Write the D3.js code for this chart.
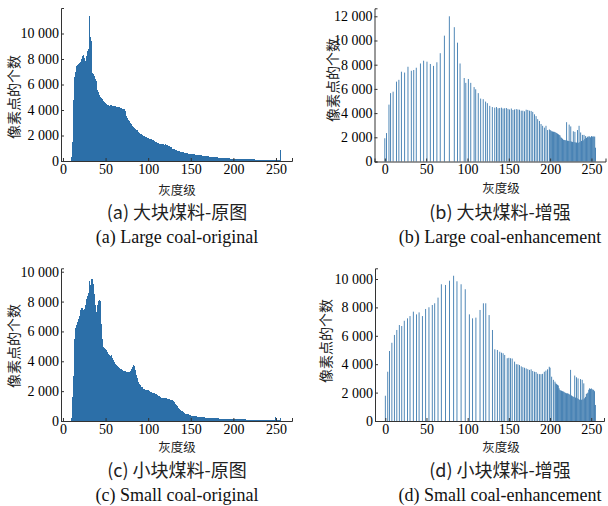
<!DOCTYPE html>
<html>
<head>
<meta charset="utf-8">
<script src="https://cdn.jsdelivr.net/npm/d3@7/dist/d3.min.js"></script>
<style>
  body { margin: 0; background: #fff; }
  .domain, .tick line { stroke: #333; }
  .cjk { font-family: "Noto Sans CJK SC", sans-serif; fill: #222; }
  .cap-en { font-family: "Liberation Serif", serif; fill: #111; }
</style>
</head>
<body>
<svg id="chart" width="608" height="506"></svg>
<script>
// ---- data: grey-level histograms ----

// (a) large coal, original: counts for grey levels 10..255
const largeOrigStart = 10;
const largeOrigCounts = [
  300, 1500, 4800, 5900, 6600, 7000, 7450, 7500, 7600, 7700,
  7850, 7800, 8000, 8200, 8350, 8100, 7850, 8150, 8250, 8600,
  8800, 11400, 9700, 9450, 8200, 6900, 6800, 6650, 6400, 6250,
  5900, 5600, 5400, 5200, 5050, 4950, 4880, 4820, 4700, 4600,
  4520, 4480, 4400, 4420, 4380, 4350, 4400, 4370, 4330, 4350,
  4300, 4320, 4280, 4260, 4270, 4250, 4220, 4200, 4180, 4150,
  4100, 4080, 4050, 3900, 3700, 3550, 3400, 3250, 3100, 3000,
  2900, 2820, 2750, 2680, 2600, 2520, 2450, 2400, 2350, 2300,
  2220, 2150, 2100, 2050, 2000, 1970, 1950, 1900, 1860, 1820,
  1780, 1760, 1740, 1720, 1700, 1670, 1640, 1600, 1560, 1520,
  1480, 1420, 1380, 1330, 1300, 1280, 1300, 1320, 1300, 1290,
  1310, 1300, 1260, 1250, 1200, 1150, 1100, 1060, 1020, 980,
  950, 920, 880, 850, 820, 800, 780, 760, 740, 720,
  700, 680, 660, 640, 620, 600, 590, 580, 570, 560,
  550, 545, 540, 530, 520, 510, 505, 500, 490, 480,
  470, 460, 450, 440, 430, 420, 410, 400, 390, 380,
  370, 360, 350, 340, 330, 320, 315, 310, 300, 295,
  290, 285, 280, 270, 265, 260, 250, 245, 240, 230,
  225, 220, 215, 210, 205, 200, 195, 190, 185, 180,
  180, 175, 178, 170, 172, 168, 165, 160, 162, 158,
  155, 152, 150, 148, 145, 142, 140, 138, 135, 132,
  130, 128, 125, 122, 120, 118, 115, 112, 110, 108,
  105, 102, 100, 98, 95, 92, 90, 88, 85, 82,
  80, 78, 76, 74, 72, 70, 68, 66, 64, 62,
  60, 58, 56, 54, 52, 860
];

// (b) large coal, enhanced: sparse levels + dense tail
const largeEnhLevels = [
  0, 2, 5, 7, 10, 14, 17, 20, 24, 28, 32, 35, 38, 43, 47, 51, 55, 59, 63, 67,
  72, 78, 84, 88, 91, 96, 98, 101, 104, 108, 110, 113, 116, 119, 122, 124, 127, 130, 133, 135,
  137, 139, 141, 143, 145, 147, 149, 151, 153, 155, 157, 159, 161, 163, 165, 167, 169, 171, 173, 175,
  177, 179, 181, 183, 185, 187, 189, 191, 193, 195, 197, 199,
  200, 201, 202, 203, 204, 205, 206, 207, 208, 209, 210, 211, 212, 213, 214, 215, 216, 217, 218, 219,
  220, 221, 222, 223, 224, 225, 226, 227, 228, 229, 230, 231, 232, 233, 234, 235, 236, 237, 238, 239,
  240, 241, 242, 243, 244, 245, 246, 247, 248, 249, 250, 251, 252, 253, 254, 255
];
const largeEnhCounts = [
  1920, 2350, 4700, 5650, 5770, 6600, 6750, 7420, 7350, 7830, 7500, 7560, 7750, 8100, 8330, 8250, 8060, 7900, 8200, 8950,
  10400, 12000, 11100, 9820, 8100, 6900, 6500, 6820, 6500, 6150, 5970, 5650, 5200, 5150, 4950, 4820, 4600, 4500, 4450, 4500,
  4400, 4420, 4450, 4380, 4400, 4420, 4350, 4300, 4380, 4260, 4300, 4330, 4300, 4280, 4200, 4200, 4150, 4280, 4260, 4200,
  4180, 4100, 3900, 3750, 3500, 3350, 3100, 2950, 2800, 2950, 2600, 2650,
  2600, 2550, 2500, 2480, 2460, 2450, 2420, 2380, 2350, 2300, 2250, 2200, 2150, 2000, 1950, 1880, 1800, 1780, 1760, 1750,
  3250, 1720, 1700, 3050, 1680, 2900, 1650, 1620, 2500, 1600, 2450, 1580, 1560, 2600, 1550, 2950, 1600, 2400, 1700, 2200,
  1750, 2200, 1850, 2100, 1950, 2050, 2000, 2100, 2050, 2000, 2100, 2050, 2080, 2050, 2060, 1140
];

// (c) small coal, original: counts for grey levels 10..255
const smallOrigStart = 10;
const smallOrigCounts = [
  200, 1600, 3000, 3900, 5500, 6200, 6400, 6600, 6800, 7000,
  7300, 7450, 7550, 7600, 7450, 7500, 7800, 7950, 8150, 8350,
  8600, 9350, 9100, 9500, 9720, 9500, 9200, 8500, 7800, 7300,
  7400, 7800, 8050, 8100, 8050, 6500, 5500, 5050, 4980, 4900,
  4850, 4750, 4600, 4500, 4450, 4400, 4380, 4420, 4250, 4100,
  3950, 3870, 3800, 3750, 3700, 3650, 3580, 3530, 3500, 3450,
  3420, 3380, 3350, 3330, 3300, 3270, 3250, 3260, 3300, 3380,
  3480, 3550, 3650, 3750, 3700, 3400, 3050, 2900, 2750, 2600,
  2480, 2380, 2300, 2250, 2200, 2150, 2120, 2100, 2090, 2080,
  2070, 2050, 2000, 1960, 1930, 1900, 1880, 1860, 1850, 1820,
  1780, 1740, 1700, 1650, 1600, 1570, 1550, 1540, 1520, 1510,
  1520, 1530, 1510, 1500, 1480, 1450, 1430, 1420, 1400, 1390,
  1350, 1250, 1150, 1050, 980, 920, 860, 800, 740, 690,
  640, 600, 560, 530, 500, 480, 460, 440, 420, 400,
  380, 365, 350, 340, 330, 320, 312, 305, 298, 292,
  290, 280, 270, 262, 255, 248, 240, 232, 225, 218,
  212, 205, 200, 196, 192, 188, 185, 182, 180, 178,
  175, 172, 170, 168, 165, 162, 160, 158, 155, 152,
  150, 148, 146, 144, 142, 140, 138, 136, 134, 132,
  130, 128, 126, 124, 122, 120, 118, 116, 114, 112,
  110, 108, 106, 104, 102, 100, 100, 98, 96, 95,
  94, 92, 90, 88, 86, 85, 84, 82, 80, 78,
  76, 75, 74, 72, 70, 70, 68, 68, 66, 65,
  64, 62, 60, 60, 58, 58, 56, 55, 54, 270,
  52, 50, 50, 48, 48, 200
];

// (d) small coal, enhanced
const smallEnhLevels = [
  0, 3, 5, 8, 11, 14, 17, 20, 23, 27, 30, 34, 38, 41, 45, 49, 53, 57, 60, 64,
  68, 73, 78, 83, 87, 92, 97, 102, 106, 110, 115, 119, 122, 126, 130, 133, 136, 139, 141, 143,
  145, 148, 150, 152, 154, 157, 159, 161, 163, 165, 167, 169, 171, 173, 175, 177, 179, 181, 183, 185,
  187, 189, 191, 193, 195, 197, 199, 200, 202, 204, 206,
  207, 208, 209, 210, 211, 212, 213, 214, 215, 216, 217, 218, 219, 220, 221, 222, 223, 224, 225, 226,
  227, 228, 229, 230, 231, 232, 233, 234, 235, 236, 237, 238, 239, 240, 241, 242, 243, 244, 245, 246,
  247, 248, 249, 250, 251, 252, 253, 254, 255
];
const smallEnhCounts = [
  1780, 3470, 4930, 5510, 6060, 6410, 6760, 6690, 7060, 7230, 7390, 7700, 7510, 7650, 7390, 7890, 8010, 8170, 8290, 8690,
  9630, 9580, 9880, 10230, 9840, 9630, 9280, 7510, 7230, 7280, 7820, 8290, 8290, 7460, 6410, 5050, 5000, 4880, 4810, 4770,
  4650, 4420, 4450, 4420, 4400, 4180, 4000, 3990, 3940, 3850, 3790, 3750, 3700, 3650, 3600, 3640, 3520, 3470, 3450, 3330,
  3300, 3300, 3320, 3470, 3550, 3640, 3820, 3750, 3120, 2900, 2770,
  2650, 2600, 2550, 2500, 2300, 2180, 2150, 2130, 2100, 2080, 2050, 2000, 1980, 1950, 1950, 1930, 1900, 1850, 3600, 1800,
  1750, 1710, 1700, 3200, 1650, 3080, 1600, 3000, 1550, 1480, 2950, 1500, 2900, 1520, 2650, 1600, 1700, 1900, 1950, 2000,
  2200, 2300, 2250, 2300, 2250, 2180, 2200, 2100, 1130
];

const yTicksLarge = [0, 2000, 4000, 6000, 8000, 10000];
const yTicksLargeEnh = [0, 2000, 4000, 6000, 8000, 10000, 12000];
const xTicks = [0, 50, 100, 150, 200, 250];

const yTitle = "像素点的个数";
const xTitle = "灰度级";
const captionsCn = ["(a) 大块煤料-原图", "(b) 大块煤料-增强", "(c) 小块煤料-原图", "(d) 小块煤料-增强"];
const captionsEn = ["(a) Large coal-original", "(b) Large coal-enhancement", "(c) Small coal-original", "(d) Small coal-enhancement"];

const barColor = "#2c6fa8";

const fmt = d3.formatLocale({decimal: ".", thousands: " ", grouping: [3], currency: ["", ""]}).format(",");

// panel layout (pixel boxes of each axes)
const panels = [
  {left: 61, right: 292, top: 8, bottom: 161, xDom: [-2.3, 268.8], yMax: 12000, yTicks: yTicksLarge,
   levels: largeOrigCounts.map((d, i) => largeOrigStart + i), counts: largeOrigCounts, dense: true,
   yT: [13, 97], xT: [177, 189], capX: 177, capY: 219},
  {left: 374.5, right: 605.5, top: 8.3, bottom: 161.5, xDom: [-12.5, 267], yMax: 12660, yTicks: yTicksLargeEnh,
   levels: largeEnhLevels, counts: largeEnhCounts, dense: false,
   yT: [332, 80], xT: [501, 187], capX: 500, capY: 219},
  {left: 61, right: 292, top: 268.3, bottom: 421, xDom: [-2.3, 268.8], yMax: 10228, yTicks: yTicksLarge,
   levels: smallOrigCounts.map((d, i) => smallOrigStart + i), counts: smallOrigCounts, dense: true,
   yT: [13, 346], xT: [177, 446.5], capX: 177, capY: 477},
  {left: 375, right: 604, top: 268.3, bottom: 421, xDom: [-12.5, 265.5], yMax: 10754, yTicks: yTicksLarge,
   levels: smallEnhLevels, counts: smallEnhCounts, dense: false,
   yT: [325, 341], xT: [501, 446.5], capX: 500, capY: 477}
];

const svg = d3.select("#chart");

panels.forEach(function(p, k) {
  const x = d3.scaleLinear().domain(p.xDom).range([p.left, p.right]);
  const y = d3.scaleLinear().domain([0, p.yMax]).range([p.bottom, p.top]);
  const bw = x(1) - x(0);
  const g = svg.append("g");

  // bars: the dense histograms are drawn crisp so neighbouring bins tile without seams
  g.append("g")
    .attr("shape-rendering", p.dense ? "crispEdges" : "auto")
    .selectAll("rect")
    .data(p.levels.map((lv, i) => ({level: lv, count: p.counts[i]})))
    .enter().append("rect")
    .attr("x", d => x(d.level) - bw / 2)
    .attr("width", bw)
    .attr("y", d => y(d.count))
    .attr("height", d => y(0) - y(d.count))
    .attr("fill", barColor);

  // axes, ticks pointing inward
  g.append("g")
    .attr("transform", "translate(0," + p.bottom + ")")
    .call(d3.axisBottom(x).tickValues(xTicks).tickFormat(d3.format("d"))
      .tickSizeInner(-3).tickSizeOuter(-3).tickPadding(3))
    .attr("font-family", "Liberation Serif, serif")
    .attr("font-size", 14);
  g.append("g")
    .attr("transform", "translate(" + p.left + ",0)")
    .call(d3.axisLeft(y).tickValues(p.yTicks).tickFormat(fmt)
      .tickSizeInner(-3).tickSizeOuter(-3).tickPadding(2))
    .attr("font-family", "Liberation Serif, serif")
    .attr("font-size", 14);

  g.append("text").attr("class", "cjk")
    .attr("transform", "translate(" + p.yT[0] + "," + p.yT[1] + ") rotate(-90)")
    .attr("text-anchor", "middle").attr("dominant-baseline", "central")
    .style("font-size", "14px")
    .text(yTitle);

  g.append("text").attr("class", "cjk")
    .attr("x", p.xT[0]).attr("y", p.xT[1])
    .attr("text-anchor", "middle").attr("dominant-baseline", "central")
    .style("font-size", "12.5px")
    .text(xTitle);

  g.append("text").attr("class", "cjk")
    .attr("x", p.capX).attr("y", p.capY)
    .attr("text-anchor", "middle")
    .style("font-size", "18px")
    .text(captionsCn[k]);

  g.append("text").attr("class", "cap-en")
    .attr("x", p.capX).attr("y", p.capY + 24)
    .attr("text-anchor", "middle")
    .style("font-size", "18px")
    .text(captionsEn[k]);
});
</script>
</body>
</html>
